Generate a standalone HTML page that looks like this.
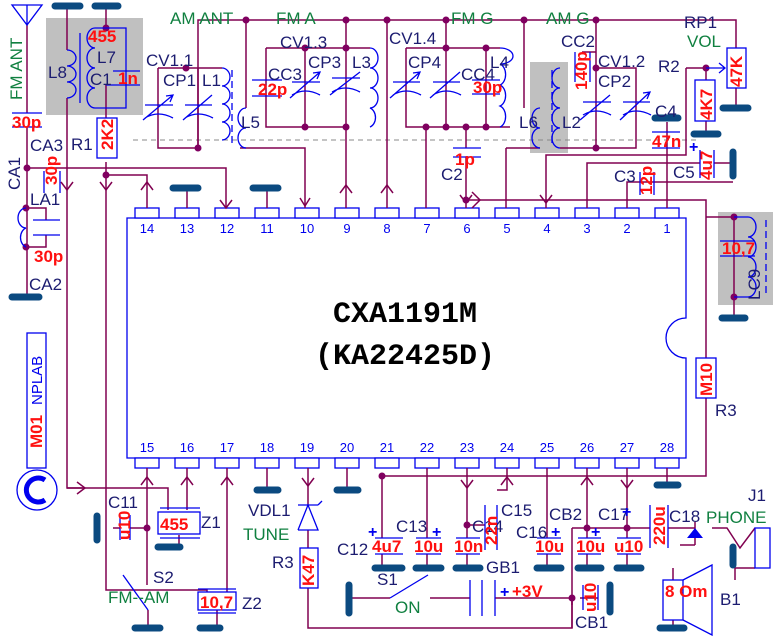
<!DOCTYPE html>
<html><head><meta charset="utf-8"><style>
html,body{margin:0;padding:0;background:#fff;width:777px;height:637px;overflow:hidden}
svg{display:block}
.w{stroke:#800050;stroke-width:1.5;fill:none}
.b{stroke:#0000ee;stroke-width:1.3;fill:none}
.bw{stroke:#0000ee;stroke-width:1.3;fill:#fff}
.g{stroke:#0b4a80;stroke-width:7;stroke-linecap:round}
.d{fill:#800060}
.ds{stroke:#888;stroke-width:1;stroke-dasharray:5,4;fill:none}
.bd{stroke:#0000ee;stroke-width:1.3;stroke-dasharray:7,4;fill:none}
text{font-family:"Liberation Sans",sans-serif}
.l{fill:#1c1c70;font-size:17px}
.v{fill:#ff1010;font-size:17px;font-weight:bold}
.gr{fill:#108040;font-size:17px}
.pn{fill:#0000ee;font-size:13px}
</style></head><body>
<svg width="777" height="637" viewBox="0 0 777 637" xmlns="http://www.w3.org/2000/svg">
<rect x="46" y="18" width="97" height="97" fill="#c0c0c0"/>
<rect x="530" y="62" width="38" height="91" fill="#c0c0c0"/>
<rect x="718" y="212" width="55" height="93" fill="#c0c0c0"/>

<path class="b" d="M127 218 H686 V318 A20 20 0 0 0 686 358 V458 H127 Z"/>
<g class="bw">
<rect x="135" y="208" width="24" height="10"/><rect x="175" y="208" width="24" height="10"/><rect x="215" y="208" width="24" height="10"/><rect x="255" y="208" width="24" height="10"/><rect x="295" y="208" width="24" height="10"/><rect x="335" y="208" width="24" height="10"/><rect x="375" y="208" width="24" height="10"/><rect x="415" y="208" width="24" height="10"/><rect x="455" y="208" width="24" height="10"/><rect x="495" y="208" width="24" height="10"/><rect x="535" y="208" width="24" height="10"/><rect x="575" y="208" width="24" height="10"/><rect x="615" y="208" width="24" height="10"/><rect x="655" y="208" width="24" height="10"/>
<rect x="135" y="458" width="24" height="10"/><rect x="175" y="458" width="24" height="10"/><rect x="215" y="458" width="24" height="10"/><rect x="255" y="458" width="24" height="10"/><rect x="295" y="458" width="24" height="10"/><rect x="335" y="458" width="24" height="10"/><rect x="375" y="458" width="24" height="10"/><rect x="415" y="458" width="24" height="10"/><rect x="455" y="458" width="24" height="10"/><rect x="495" y="458" width="24" height="10"/><rect x="535" y="458" width="24" height="10"/><rect x="575" y="458" width="24" height="10"/><rect x="615" y="458" width="24" height="10"/><rect x="655" y="458" width="24" height="10"/>
</g>
<g class="pn" text-anchor="middle">
<text x="147" y="233">14</text><text x="187" y="233">13</text><text x="227" y="233">12</text><text x="267" y="233">11</text><text x="307" y="233">10</text><text x="347" y="233">9</text><text x="387" y="233">8</text><text x="427" y="233">7</text><text x="467" y="233">6</text><text x="507" y="233">5</text><text x="547" y="233">4</text><text x="587" y="233">3</text><text x="627" y="233">2</text><text x="667" y="233">1</text>
<text x="147" y="452">15</text><text x="187" y="452">16</text><text x="227" y="452">17</text><text x="267" y="452">18</text><text x="307" y="452">19</text><text x="347" y="452">20</text><text x="387" y="452">21</text><text x="427" y="452">22</text><text x="467" y="452">23</text><text x="507" y="452">24</text><text x="547" y="452">25</text><text x="587" y="452">26</text><text x="627" y="452">27</text><text x="667" y="452">28</text>
</g>
<text x="405" y="322" text-anchor="middle" style="font-family:'Liberation Mono',monospace;font-weight:bold;font-size:30px;fill:#000">CXA1191M</text>
<text x="405" y="364" text-anchor="middle" style="font-family:'Liberation Mono',monospace;font-weight:bold;font-size:30px;fill:#000">(KA22425D)</text>

<path class="ds" d="M133 140 H700"/>

<g class="w">
<path d="M198 148 V20 H736 V48"/>
<path d="M27 25 V113 M27 127 V297"/>
<path d="M27 168 H226 V208"/>
<path d="M106 85 V118 M106 162 V555 M106 175 H147 V208"/>
<path d="M67 6 V50 M67 98 V488 H85"/>
<path d="M106 6 V28"/>
<path d="M187 188 V208 M267 188 V208"/>
<path d="M158 68 V148 H198 M158 68 H222 M198 68 V148"/>
<path d="M246 20 V108 M240 148 H305 V208"/>
<path d="M266 48 V127 H346 M266 48 H370 M305 48 V127 M346 20 V208"/>
<path d="M387 20 V208"/>
<path d="M406 48 V127 H510 M406 48 H500 M446 20 V127 M486 48 V127 M426 127 V208 M466 127 V148 M466 157 V208"/>
<path d="M524 20 V108 M506 148 H540 M506 148 V208"/>
<path d="M596 20 V148 M596 68 H636 V148 H560 M582 52 H596"/>
<path d="M667 122 V208"/>
<path d="M686 68 H706 V80 M706 121 V131 M686 68 V155 H546 V208"/>
<path d="M587 208 V163 H700 M714 163 H733"/>
<path d="M627 208 V182 H733"/>
<path d="M466 200 H706 V217 H734 M706 200 V358 M706 398 V476 H382"/>
<path d="M734 217 V318 M736 88 V108"/>
<path d="M26 208 H46 V220 M46 235 V247 H26"/>
<path d="M267 468 V490 M347 468 V490 M667 468 V485"/>
<path d="M147 468 V585 M113 528 H120 M130 528 H147 M187 468 V510 M179 535 V547 M67 488 H168 V510"/>
<path d="M227 468 V592 M106 555 V590 H207 V592 M217 610 V628 M148 610 V628"/>
<path d="M308 468 V505 M308 530 V548 M308 588 V628 H572 V598"/>
<path d="M382 476 V538 M382 554 V568 M427 468 V538 M427 554 V568 M467 468 V538 M467 554 V568 M507 468 V490 H497 M467 525 H485"/>
<path d="M547 468 V538 M547 554 V568 M587 468 V538 M587 554 V568 M627 468 V538 M627 554 V568 M572 528 H650 M572 528 V628 M668 528 H695"/>
<path d="M347 598 H390 M430 598 H470 M495 598 H572 M572 598 V605 M580 598 H598"/>
<path d="M673 580 V568 M673 620 V628 M695 522 V545 M680 545 H695"/>
<path d="M712 528 H727 L740 548 L755 528 M755 568 H735 V580"/>
</g>
<g class="w">
<path d="M141 190 L147 182 L153 190 M220 200 L226 208 L232 200 M100 182 L106 190 L112 182 M61 182 L67 190 L73 182 M300 198 L305 206 L310 198 M340 193 L346 185 L352 193 M381 193 L387 185 L393 193 M540 195 L546 203 L552 195 M460 195 L466 203 L472 195 M472 192 L480 200 L472 208 M77 482 L85 488 L77 494 M141 485 L147 477 L153 485 M181 485 L187 477 L193 485 M221 485 L227 477 L233 485 M302 478 L308 486 L314 478 M461 480 L467 488 L473 480 M501 485 L507 477 L513 485 M581 485 L587 477 L593 485 M621 480 L627 488 L633 480"/>
</g>
<g class="d">
<circle cx="246" cy="20" r="3.5"/><circle cx="346" cy="20" r="3.5"/><circle cx="387" cy="20" r="3.5"/><circle cx="446" cy="20" r="3.5"/><circle cx="524" cy="20" r="3.5"/><circle cx="596" cy="20" r="3.5"/>
<circle cx="106" cy="28" r="3.5"/><circle cx="186" cy="68" r="3.5"/><circle cx="198" cy="148" r="3.5"/>
<circle cx="305" cy="48" r="3.5"/><circle cx="346" cy="48" r="3.5"/><circle cx="305" cy="127" r="3.5"/><circle cx="346" cy="127" r="3.5"/>
<circle cx="446" cy="48" r="3.5"/><circle cx="486" cy="48" r="3.5"/><circle cx="426" cy="127" r="3.5"/><circle cx="446" cy="127" r="3.5"/><circle cx="466" cy="127" r="3.5"/><circle cx="486" cy="127" r="3.5"/>
<circle cx="596" cy="68" r="3.5"/><circle cx="596" cy="148" r="3.5"/><circle cx="706" cy="68" r="3.5"/><circle cx="466" cy="200" r="3.5"/>
<circle cx="27" cy="168" r="3.5"/><circle cx="26" cy="208" r="3.5"/><circle cx="26" cy="247" r="3.5"/><circle cx="106" cy="175" r="3.5"/>
<circle cx="734" cy="217" r="3.5"/><circle cx="734" cy="297" r="3.5"/>
<circle cx="382" cy="476" r="3.5"/><circle cx="147" cy="528" r="3.5"/><circle cx="467" cy="525" r="3.5"/><circle cx="587" cy="528" r="3.5"/><circle cx="627" cy="528" r="3.5"/><circle cx="572" cy="598" r="3.5"/>
</g>
<g class="g">
<path d="M55 6 H80 M95 6 H118 M173 188 H198 M253 188 H278 M12 297 H39 M722 318 H745 M694 134 H718 M723 108 H748 M655 118 H678 M733 152 V176 M97 516 V540 M158 547 H180 M200 628 H220 M135 628 H160 M257 490 H278 M337 490 H358 M657 485 H678 M375 568 H402 M416 568 H441 M456 568 H480 M537 568 H561 M578 568 H601 M617 568 H641 M349 585 V613 M610 585 V612 M660 628 H684 M733 547 V565"/>
</g>
<g class="b">
<path d="M12 5 H42 L27 25 Z M27 5 V25"/>
<path d="M12 113 H42 M12 127 H42"/>
<path d="M26 208 a8 10 0 0 0 0 20 a8 10 0 0 0 0 19"/>
<path d="M33 220 H60 M33 235 H60"/>
<path d="M60 171 V193 M44 171 V193"/>
<path d="M67 50 a9 8 0 0 1 0 16 a9 8 0 0 1 0 16 a9 8 0 0 1 0 16 M80 33 V103"/>
<path d="M106 28 H95 a8 10 0 0 0 0 20 a8 10 0 0 0 0 20 a8 10 0 0 0 0 20 a8 10 0 0 0 0 20 H126 V28 H106 M113 71 H140 M113 85 H140 M106 85 H113"/>
<rect x="97" y="118" width="20" height="40" fill="#fff"/>
<path d="M222 68 a8 9 0 0 1 0 18 a8 9 0 0 1 0 18 a8 9 0 0 1 0 18 a8 9 0 0 1 0 18"/>
<path class="bd" d="M232 70 V145"/>
<path d="M246 108 a8 10 0 0 0 0 20 a8 10 0 0 0 0 20"/>
<path d="M145 105 H173 M145 118 q13 -8 28 0 M143 120 L173 95 M166 96 L173 95 L170 102"/>
<path d="M185 105 H212 M185 118 q13 -8 28 0 M183 120 L212 95"/>
<path d="M252 80 H282 M252 96 H282"/>
<path d="M292 82 H320 M292 95 q13 -8 28 0 M290 98 L320 72 M313 73 L320 72 L317 79"/>
<path d="M332 78 H360 M332 92 q13 -8 28 0 M330 95 L360 72"/>
<path d="M370 48 a8 10 0 0 1 0 20 a8 10 0 0 1 0 20 a8 10 0 0 1 0 20 a8 10 0 0 1 0 19"/>
<path d="M393 82 H420 M393 95 q13 -8 28 0 M390 98 L420 72 M413 73 L420 72 L417 79"/>
<path d="M433 82 H460 M433 95 q13 -8 28 0 M430 98 L460 72"/>
<path d="M472 80 H500 M472 94 H500"/>
<path d="M500 48 a13 8 0 0 1 0 16 M500 64 a8 11 0 0 1 0 21 a8 11 0 0 1 0 21 a8 11 0 0 1 0 21"/>
<path d="M453 148 H481 M453 157 H481"/>
<path d="M540 108 a8 10 0 0 0 0 20 a8 10 0 0 0 0 20 M560 68 a8 10 0 0 0 0 20 a8 10 0 0 0 0 20 a8 10 0 0 0 0 20 a8 10 0 0 0 0 20"/>
<path class="bd" d="M552 70 V145"/>
<path d="M575 52 V82 M590 52 V82"/>
<path d="M583 102 H611 M583 115 q13 -8 28 0 M580 120 L610 95"/>
<path d="M623 102 H650 M623 115 q13 -8 28 0 M620 120 L650 92 M643 93 L650 92 L647 99"/>
<path d="M652 132 H680 M652 148 H680"/>
<rect x="695" y="80" width="20" height="41" fill="#fff"/>
<rect x="727" y="48" width="19" height="40" fill="#fff"/>
<path d="M706 68 H725 M719 63 L725 68 L719 73"/>
<path d="M700 150 V178 M714 150 V178"/>
<path d="M640 172 V195 M654 172 V195"/>
<path d="M720 241 H755 M720 256 H755"/>
<path d="M734 217 H748 a8 10 0 0 1 0 20 a8 10 0 0 1 0 20 a8 10 0 0 1 0 20 a8 10 0 0 1 0 20 H734"/>
<path class="bd" d="M766 220 V295"/>
<rect x="696" y="358" width="20" height="40" fill="#fff"/>
<rect x="27" y="333" width="19" height="135" fill="#fff"/>
<circle cx="37" cy="490" r="20" fill="#fff"/>
<path d="M45 480 a12 12 0 1 0 0 20" stroke-width="5"/>
<path d="M120 515 V540 M130 515 V540"/>
<path d="M160 508 H200 M160 538 H200"/><rect x="158" y="512" width="42" height="22" fill="#fff"/>
<path d="M198 589 H236 M198 613 H236"/><rect x="198" y="592" width="38" height="18" fill="#fff"/>
<path d="M298 505 H318 M298 530 H318 L308 505 L298 530 M318 505 l4 -4"/>
<rect x="300" y="548" width="18" height="40" fill="#fff"/>
<path d="M375 538 H403 M375 554 H403 M416 538 H441 M416 554 H441 M456 538 H480 M456 554 H480 M537 538 H561 M537 554 H561 M578 538 H601 M578 554 H601 M617 538 H641 M617 554 H641"/>
<path d="M485 505 V550 M497 505 V550"/>
<path d="M650 505 V548 M668 505 V548"/>
<path d="M470 580 V616 M482 580 V616 M495 580 V616"/>
<path d="M583 585 V610 M598 585 V610"/>
<path d="M390 598 L428 575"/>
<path d="M123 575 L148 610"/>
<rect x="663" y="580" width="20" height="40" fill="#fff"/>
<path d="M683 580 L712 565 V635 L683 620"/>
<rect x="755" y="528" width="15" height="40" fill="#fff"/>
</g>
<path d="M687 538 L695 528 L703 538 Z" fill="#0000ee"/>

<g class="l">
<text x="48" y="78">L8</text><text x="97" y="63">L7</text><text x="90" y="85">C1</text>
<text x="146" y="66">CV1.1</text><text x="163" y="86">CP1</text><text x="202" y="86">L1</text>
<text x="71" y="150">R1</text><text x="241" y="128">L5</text>
<text x="280" y="48">CV1.3</text><text x="268" y="80">CC3</text><text x="308" y="68">CP3</text><text x="352" y="68">L3</text>
<text x="389" y="44">CV1.4</text><text x="408" y="68">CP4</text><text x="461" y="80">CC4</text><text x="490" y="68">L4</text>
<text x="441" y="180">C2</text>
<text x="519" y="128">L6</text><text x="562" y="128">L2</text>
<text x="561" y="47">CC2</text><text x="598" y="67">CV1.2</text><text x="598" y="87">CP2</text>
<text x="658" y="72">R2</text><text x="684" y="28">RP1</text>
<text x="655" y="117">C4</text><text x="673" y="178">C5</text><text x="614" y="182">C3</text>
<text x="30" y="151">CA3</text><text x="30" y="205">LA1</text><text x="29" y="290">CA2</text>
<text x="715" y="416">R3</text>
<text x="108" y="508">C11</text><text x="201" y="528">Z1</text><text x="242" y="609">Z2</text>
<text x="153" y="583">S2</text><text x="248" y="516">VDL1</text><text x="272" y="568">R3</text>
<text x="337" y="555">C12</text><text x="396" y="532">C13</text><text x="472" y="532">C14</text><text x="501" y="516">C15</text>
<text x="516" y="538">C16</text><text x="549" y="520">CB2</text><text x="598" y="520">C17</text><text x="669" y="522">C18</text>
<text x="748" y="501">J1</text><text x="486" y="573">GB1</text><text x="377" y="585">S1</text><text x="575" y="628">CB1</text><text x="720" y="605">B1</text>
</g>
<text class="l" transform="translate(20 190) rotate(-90)">CA1</text>
<text class="l" transform="translate(760 300) rotate(-90)">LC9</text>
<g class="gr">
<text x="170" y="24">AM ANT</text><text x="276" y="24">FM A</text><text x="451" y="24">FM G</text><text x="546" y="24">AM G</text>
<text x="687" y="47">VOL</text><text x="243" y="540">TUNE</text><text x="108" y="603">FM--AM</text><text x="395" y="613">ON</text><text x="706" y="523">PHONE</text>
</g>
<text class="gr" transform="translate(22 100) rotate(-90)">FM ANT</text>
<g class="v">
<text x="88" y="42">455</text><text x="118" y="84">1n</text>
<text x="12" y="128">30p</text><text x="34" y="262">30p</text>
<text x="258" y="95">22p</text><text x="473" y="93">30p</text><text x="455" y="165">1p</text><text x="652" y="147">47n</text>
<text x="722" y="254">10,7</text>
<text x="160" y="530">455</text><text x="200" y="608">10,7</text>
<text x="372" y="552">4u7</text><text x="414" y="552">10u</text><text x="454" y="552">10n</text><text x="535" y="552">10u</text><text x="576" y="552">10u</text><text x="614" y="552">u10</text>
<text x="665" y="597">8 Om</text><text x="512" y="597">+3V</text>
</g>
<g class="v">
<text transform="translate(113 150) rotate(-90)">2K2</text>
<text transform="translate(57 185) rotate(-90)">30p</text>
<text transform="translate(587 90) rotate(-90)">140p</text>
<text transform="translate(712 120) rotate(-90)">4K7</text>
<text transform="translate(742 87) rotate(-90)">47K</text>
<text transform="translate(712 180) rotate(-90)">4u7</text>
<text transform="translate(652 195) rotate(-90)">12p</text>
<text transform="translate(712 396) rotate(-90)">M10</text>
<text transform="translate(42 448) rotate(-90)">M01</text>
<text transform="translate(130 540) rotate(-90)">u10</text>
<text transform="translate(314 586) rotate(-90)">K47</text>
<text transform="translate(497 545) rotate(-90)">22n</text>
<text transform="translate(665 545) rotate(-90)">220u</text>
<text transform="translate(596 612) rotate(-90)">u10</text>
</g>
<text transform="translate(42 405) rotate(-90)" style="fill:#0000ee;font-size:15px">NPLAB</text>
<g style="fill:#0000ee;font-size:16px;font-weight:bold">
<text x="368" y="537">+</text><text x="432" y="537">+</text><text x="551" y="537">+</text><text x="591" y="537">+</text><text x="622" y="517">+</text><text x="689" y="152">+</text><text x="500" y="597">+</text>
</g>
</svg>
</body></html>
